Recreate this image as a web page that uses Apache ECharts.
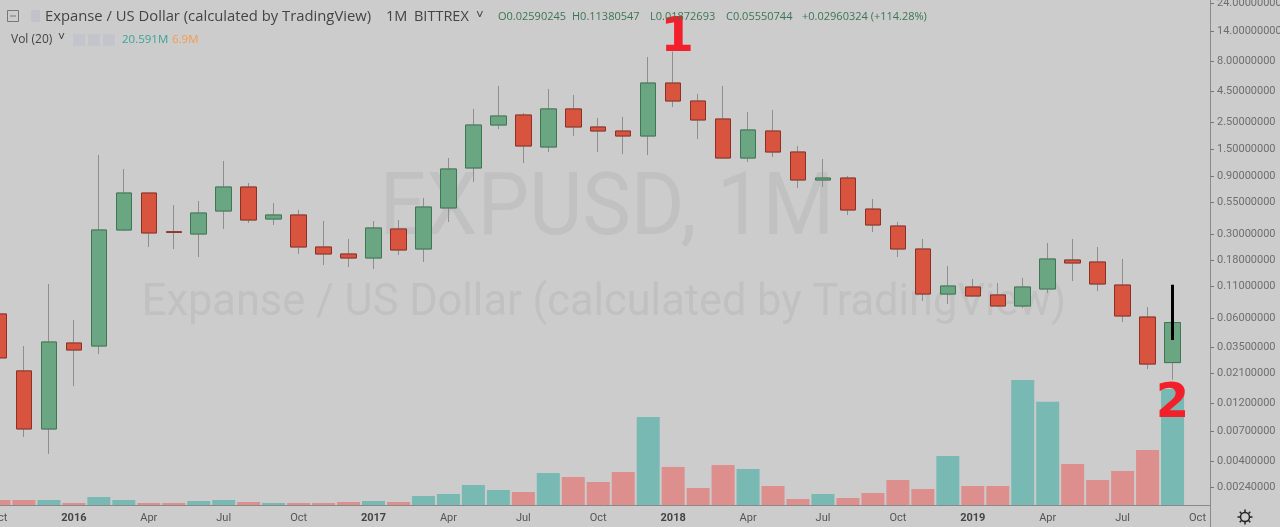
<!DOCTYPE html>
<html><head><meta charset="utf-8">
<script src="https://cdn.jsdelivr.net/npm/echarts@6/dist/echarts.min.js"></script>
<style>html,body{margin:0;padding:0;background:#cccccc;}#c{width:1280px;height:527px;}</style>
</head><body><div id="c"></div>
<script>
const months = ['Oct 2015','Nov 2015','Dec 2015',
 'Jan 2016','Feb 2016','Mar 2016','Apr 2016','May 2016','Jun 2016','Jul 2016','Aug 2016','Sep 2016','Oct 2016','Nov 2016','Dec 2016',
 'Jan 2017','Feb 2017','Mar 2017','Apr 2017','May 2017','Jun 2017','Jul 2017','Aug 2017','Sep 2017','Oct 2017','Nov 2017','Dec 2017',
 'Jan 2018','Feb 2018','Mar 2018','Apr 2018','May 2018','Jun 2018','Jul 2018','Aug 2018','Sep 2018','Oct 2018','Nov 2018','Dec 2018',
 'Jan 2019','Feb 2019','Mar 2019','Apr 2019','May 2019','Jun 2019','Jul 2019','Aug 2019','Sep 2019','Oct 2019'];
const open = [0.0653,0.0221,0.00733,0.0376,0.0355,0.3223,0.651,0.312,0.2987,0.4624,0.730,0.3972,0.4287,0.2333,0.2042,0.1892,0.3285,0.2246,0.490,1.048,2.373,2.87,1.562,3.22,2.285,2.117,1.925,5.27,3.745,2.66,1.267,2.117,1.420,0.834,0.866,0.480,0.3477,0.2246,0.0954,0.1090,0.0937,0.0760,0.1050,0.1822,0.1754,0.1132,0.0616,0.02590245,null];
const close = [0.0283,0.00733,0.0383,0.0329,0.3223,0.651,0.3045,0.308,0.4452,0.730,0.3897,0.4287,0.2333,0.2042,0.1892,0.3348,0.2204,0.499,1.028,2.373,2.816,1.592,3.22,2.285,2.117,1.925,5.27,3.745,2.61,1.267,2.158,1.420,0.834,0.866,0.4713,0.3544,0.2246,0.0954,0.1111,0.0919,0.0760,0.1090,0.1857,0.1721,0.1154,0.0628,0.0252,0.05550744,null];
const low = [0.027,0.00629,0.00456,0.0166,0.0305,0.316,0.2333,0.2246,0.1929,0.3285,0.3681,0.3544,0.2042,0.1657,0.1595,0.1536,0.2003,0.1754,0.3752,0.803,2.199,1.152,1.420,1.925,1.420,1.367,1.342,3.34,1.818,1.243,1.174,1.291,0.716,0.730,0.4287,0.3102,0.1929,0.0836,0.0789,0.0902,0.0746,0.0731,0.0973,0.1222,0.1010,0.0560,0.0229,0.01872693,null];
const high = [0.072,0.0355,0.1154,0.0582,1.342,1.028,0.655,0.518,0.559,1.197,0.788,0.538,0.4713,0.3825,0.2716,0.3825,0.3897,0.592,1.267,3.22,4.98,2.98,4.71,4.20,2.711,2.763,8.65,9.6,4.28,4.98,3.04,3.157,1.592,1.243,0.900,0.581,0.3752,0.2716,0.1626,0.1269,0.1177,0.1294,0.2517,0.2716,0.2333,0.1857,0.0746,0.11380547,null];
const volumeM = [0.89,0.89,0.89,0.36,1.42,0.89,0.36,0.36,0.71,0.89,0.53,0.36,0.36,0.36,0.53,0.71,0.53,1.6,1.95,3.55,2.66,2.31,5.68,4.97,4.08,5.86,15.6,6.75,3.02,7.1,6.39,3.37,1.07,1.95,1.24,2.13,4.44,2.84,8.7,3.37,3.37,22.2,18.3,7.28,4.44,6.04,9.76,20.591,null];
const priceTicks = [24,14,8,4.5,2.5,1.5,0.9,0.55,0.3,0.18,0.11,0.06,0.035,0.021,0.012,0.007,0.004,0.0024];
const annotations = [{month:'Jan 2018', price:12.18, text:'1'},{month:'Sep 2019', price:0.01157, text:'2'}];
const markedWick = {month:'Sep 2019', from:0.1138, to:0.0398};

const UP='#6ba682', DOWN='#d9543f', UPB='#3f7653', DOWNB='#8c3025', WICK='#8e8e8e';
const VUP='#79b9b3', VDOWN='#dd8f8e';
const FONT='Roboto, "Noto Sans", sans-serif';
const HFONT='"Open Sans", Roboto, sans-serif';

const wickData = months.map((m,i)=> open[i]==null ? '-' : [open[i],close[i],low[i],high[i]]);
const bodyData = months.map((m,i)=> open[i]==null ? '-' : [open[i],close[i],Math.min(open[i],close[i]),Math.max(open[i],close[i])]);
const volData = months.map((m,i)=> volumeM[i]==null ? '-' : {value:volumeM[i], itemStyle:{color: close[i]>=open[i]?VUP:VDOWN}});
const showIdx = (i)=> i%3===0;

const chart = echarts.init(document.getElementById('c'), null, {renderer:'canvas'});
const hdr = (x,y,text,fill,size)=>({type:'text',z:100,style:{x,y,text,fill,font:(size||12)+'px '+HFONT,textVerticalAlign:'middle',verticalAlign:'middle'}});
const gear = [];
for(let k=0;k<8;k++){const a=k*Math.PI/4;gear.push({type:'line',z:100,shape:{x1:1245+Math.cos(a)*5,y1:517+Math.sin(a)*5,x2:1245+Math.cos(a)*7.5,y2:517+Math.sin(a)*7.5},style:{stroke:'#222',lineWidth:1.5}});}
chart.setOption({
  animation:false,
  backgroundColor:'#cccccc',
  grid:{left:-13.5,right:70,top:0,bottom:22,containLabel:false,outerBoundsMode:'none'},
  xAxis:{type:'category',data:months,boundaryGap:true,
    axisLine:{lineStyle:{color:'#8a8a8a'}},
    axisTick:{alignWithLabel:true,interval:(i)=>showIdx(i),length:4,lineStyle:{color:'#777'}},
    axisLabel:{interval:(i)=>showIdx(i),color:'#555',fontSize:11,fontFamily:FONT,margin:8,
      formatter:(v)=>{const p=v.split(' ');return p[0]==='Jan'?'{b|'+p[1]+'}':p[0];},
      rich:{b:{fontWeight:'bold',color:'#444',fontSize:11,fontFamily:FONT}}},
    splitLine:{show:false}},
  yAxis:[{type:'log',position:'right',min:0.001727,max:25.56,logBase:10,
    axisLine:{show:true,lineStyle:{color:'#8a8a8a'}},
    axisTick:{show:true,customValues:priceTicks,length:4,lineStyle:{color:'#777'}},
    axisLabel:{customValues:priceTicks,formatter:(v)=>Number(v).toFixed(8),color:'#6e6e6e',fontSize:11,fontFamily:FONT,margin:7},
    splitLine:{show:false}},
   {type:'value',min:0,max:89.6,show:false,splitLine:{show:false}}],
  graphic:[
    {type:'text',z:0,x:607,y:212,scaleX:0.93,style:{text:'EXPUSD, 1M',fill:'#c1c1c1',font:'88px '+FONT,textAlign:'center',align:'center',textVerticalAlign:'middle',verticalAlign:'middle'}},
    {type:'text',z:0,x:604,y:304,scaleX:0.985,style:{text:'Expanse / US Dollar (calculated by TradingView)',fill:'#c1c1c1',font:'44px '+FONT,textAlign:'center',align:'center',textVerticalAlign:'middle',verticalAlign:'middle'}},
    {type:'rect',z:100,shape:{x:7.5,y:10.5,width:11,height:11},style:{fill:'none',stroke:'#777',lineWidth:1}},
    {type:'line',z:100,shape:{x1:10,y1:16,x2:16,y2:16},style:{stroke:'#777',lineWidth:1}},
    {type:'rect',z:100,shape:{x:31,y:10,width:9,height:12},style:{fill:'#c2c2ca'}},
    hdr(45,17,'Expanse / US Dollar (calculated by TradingView)','#444',14.8),
    hdr(386,17,'1M','#444',14.5),
    hdr(414,17,'BITTREX','#444',14.5),
    hdr(476,15,'˅','#444',13),
    hdr(498,17,'O0.02590245','#3b7555',11),
    hdr(572,17,'H0.11380547','#3b7555',11),
    hdr(650,17,'L0.01872693','#3b7555',11),
    hdr(726,17,'C0.05550744','#3b7555',11),
    hdr(802,17,'+0.02960324 (+114.28%)','#3b7555',11),
    hdr(11,40,'Vol (20)','#444',12),
    hdr(58,38,'˅','#444',12),
    {type:'rect',z:100,shape:{x:73,y:34,width:12,height:12},style:{fill:'#c4c4cc'}},
    {type:'rect',z:100,shape:{x:88,y:34,width:12,height:12},style:{fill:'#c4c4cc'}},
    {type:'rect',z:100,shape:{x:103,y:34,width:12,height:12},style:{fill:'#c4c4cc'}},
    hdr(122,40,'20.591M','#3aa39a',11.5),
    hdr(172,40,'6.9M','#f79a4a',11.5),
    {type:'line',z:100,shape:{x1:1210.5,y1:505,x2:1210.5,y2:527},style:{stroke:'#8a8a8a',lineWidth:1}},
    {type:'circle',z:100,shape:{cx:1245,cy:517,r:4.5},style:{fill:'none',stroke:'#222',lineWidth:1.5}}
  ].concat(gear),
  series:[
    {type:'bar',name:'vol',xAxisIndex:0,yAxisIndex:1,data:volData,barWidth:23,z:1,silent:true},
    {type:'candlestick',name:'wick',data:wickData,barWidth:16,z:3,silent:true,
      itemStyle:{color:WICK,color0:WICK,borderColor:WICK,borderColor0:WICK,borderWidth:1}},
    {type:'candlestick',name:'body',data:bodyData,barWidth:16,z:4,silent:true,
      itemStyle:{color:UP,color0:DOWN,borderColor:UPB,borderColor0:DOWNB,borderWidth:1},
      markLine:{silent:true,symbol:['none','none'],animation:false,label:{show:false},
        lineStyle:{color:'#000',width:3,type:'solid'},
        data:[[{coord:[markedWick.month,markedWick.from]},{coord:[markedWick.month,markedWick.to]}]]},
      markPoint:{silent:true,symbol:'circle',symbolSize:0,animation:false,
        label:{show:true,position:'inside',formatter:(p)=>p.name,color:'#f2202a',fontSize:48,fontWeight:'bold',fontFamily:'"DejaVu Sans"'},
        data:annotations.map(a=>({name:a.text,coord:[a.month,a.price],label:{offset:a.text==='1'?[4,0]:[0,0]}}))}}
  ]
});
</script></body></html>
